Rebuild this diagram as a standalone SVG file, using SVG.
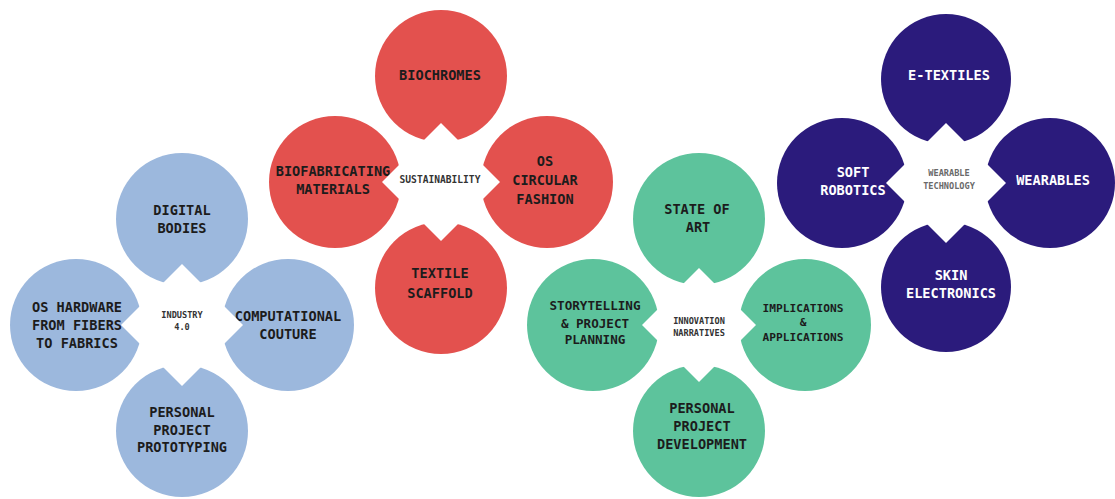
<svg xmlns="http://www.w3.org/2000/svg" width="1115" height="499" viewBox="0 0 1115 499">
  <style>
    .blue { fill: #9cb8dd; }
    .red { fill: #e3514e; }
    .green { fill: #5dc39c; }
    .purple { fill: #2b1b7c; }
    .hole { fill: #ffffff; }
    text { font-family: "DejaVu Sans Mono", "Liberation Mono", monospace; font-weight: bold; text-anchor: middle; }
    .lbl { font-size: 13.6px; fill: #1c1c1c; }
    .lbl-w { font-size: 13.6px; fill: #ffffff; }
    .lbl-s { font-size: 12.6px; fill: #1c1c1c; }
    .lbl-xs { font-size: 11.2px; fill: #1c1c1c; }
    .hub { font-size: 8.6px; fill: #333333; }
    .hub-w { font-size: 8.6px; fill: #6a6a6a; }
  </style>
  <rect width="1115" height="499" fill="#ffffff"/>

  <!-- Industry 4.0 -->
  <g id="industry">
    <g id="digital-bodies"><circle class="blue" cx="182" cy="219" r="66"/><text class="lbl" x="182" y="215">DIGITAL</text><text class="lbl" x="182" y="233">BODIES</text></g>
    <g id="os-hardware"><circle class="blue" cx="76" cy="325" r="66"/><text class="lbl" x="77" y="312">OS HARDWARE</text><text class="lbl" x="77" y="330">FROM FIBERS</text><text class="lbl" x="77" y="348">TO FABRICS</text></g>
    <g id="computational-couture"><circle class="blue" cx="288" cy="325" r="66"/><text class="lbl" x="288" y="321">COMPUTATIONAL</text><text class="lbl" x="288" y="339">COUTURE</text></g>
    <g id="personal-prototyping"><circle class="blue" cx="182" cy="431" r="66"/><text class="lbl" x="182" y="417">PERSONAL</text><text class="lbl" x="182" y="435">PROJECT</text><text class="lbl" x="182" y="452">PROTOTYPING</text></g>
    <g id="industry-hub"><polygon class="hole" points="182,264 243,325 182,386 121,325"/><text class="hub" x="182" y="318">INDUSTRY</text><text class="hub" x="182" y="330">4.0</text></g>
  </g>

  <!-- Sustainability -->
  <g id="sustainability">
    <g id="biochromes"><circle class="red" cx="441" cy="76" r="66"/><text class="lbl" x="440" y="80">BIOCHROMES</text></g>
    <g id="biofabricating"><circle class="red" cx="335" cy="182" r="66"/><text class="lbl" x="333" y="176">BIOFABRICATING</text><text class="lbl" x="333" y="194">MATERIALS</text></g>
    <g id="circular-fashion"><circle class="red" cx="547" cy="182" r="66"/><text class="lbl" x="545" y="166">OS</text><text class="lbl" x="545" y="185">CIRCULAR</text><text class="lbl" x="545" y="204">FASHION</text></g>
    <g id="textile-scaffold"><circle class="red" cx="441" cy="288" r="66"/><text class="lbl" x="440" y="278">TEXTILE</text><text class="lbl" x="440" y="298">SCAFFOLD</text></g>
    <g id="sustainability-hub"><polygon class="hole" points="441,123 500,182 441,241 382,182"/><text class="hub" x="440" y="183" style="font-size:9.6px">SUSTAINABILITY</text></g>
  </g>

  <!-- Innovation narratives -->
  <g id="innovation">
    <g id="state-of-art"><circle class="green" cx="699" cy="219" r="66"/><text class="lbl" x="697" y="214">STATE OF</text><text class="lbl" x="698" y="232">ART</text></g>
    <g id="storytelling"><circle class="green" cx="593" cy="325" r="66"/><text class="lbl-s" x="595" y="310">STORYTELLING</text><text class="lbl-s" x="595" y="328">&amp; PROJECT</text><text class="lbl-s" x="595" y="344">PLANNING</text></g>
    <g id="implications"><circle class="green" cx="805" cy="325" r="66"/><text class="lbl-xs" x="803" y="312">IMPLICATIONS</text><text class="lbl-xs" x="803" y="326">&amp;</text><text class="lbl-xs" x="803" y="341">APPLICATIONS</text></g>
    <g id="personal-development"><circle class="green" cx="699" cy="431" r="66"/><text class="lbl" x="702" y="413">PERSONAL</text><text class="lbl" x="702" y="431">PROJECT</text><text class="lbl" x="702" y="449">DEVELOPMENT</text></g>
    <g id="innovation-hub"><polygon class="hole" points="699,268 756,325 699,382 642,325"/><text class="hub" x="699" y="324">INNOVATION</text><text class="hub" x="699" y="336">NARRATIVES</text></g>
  </g>

  <!-- Wearable technology -->
  <g id="wearable">
    <g id="e-textiles"><circle class="purple" cx="946" cy="79" r="65"/><text class="lbl-w" x="949" y="80">E-TEXTILES</text></g>
    <g id="soft-robotics"><circle class="purple" cx="842" cy="183" r="65"/><text class="lbl-w" x="853" y="177">SOFT</text><text class="lbl-w" x="853" y="195">ROBOTICS</text></g>
    <g id="wearables"><circle class="purple" cx="1050" cy="183" r="65"/><text class="lbl-w" x="1053" y="185">WEARABLES</text></g>
    <g id="skin-electronics"><circle class="purple" cx="946" cy="287" r="65"/><text class="lbl-w" x="951" y="280">SKIN</text><text class="lbl-w" x="951" y="298">ELECTRONICS</text></g>
    <g id="wearable-hub"><polygon class="hole" points="946,123 1006,183 946,243 886,183"/><text class="hub-w" x="949" y="176">WEARABLE</text><text class="hub-w" x="949" y="189">TECHNOLOGY</text></g>
  </g>
</svg>
